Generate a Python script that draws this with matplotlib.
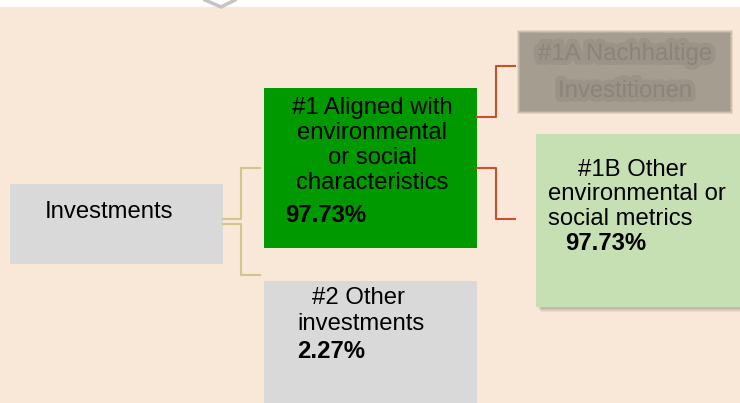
import matplotlib
matplotlib.use("Agg")
import matplotlib.pyplot as plt
from matplotlib.patches import Rectangle
import matplotlib.patheffects as pe

plt.rcParams['font.family'] = ['Liberation Sans', 'DejaVu Sans']

# ---- data ----
root_label = "Investments"
aligned_label = ["#1 Aligned with", "environmental", "or social", "characteristics"]
aligned_share = "97.73%"
other_label = ["#2 Other", "investments"]
other_share = "2.27%"
sustainable_label = ["#1A Nachhaltige", "Investitionen"]
other_es_label = ["#1B Other", "environmental or", "social metrics"]
other_es_share = "97.73%"

BG = "#F9E8D8"
GREY = "#D9D9D9"
GREEN = "#009900"
LGREEN = "#C6E0B4"
TAN = "#D2C48E"
RED = "#C9502E"
BLUR = "#A69D91"

fig = plt.figure(figsize=(7.4, 4.03), dpi=100)
fig.patch.set_facecolor("white")
ax = fig.add_axes([0, 0, 1, 1])
ax.set_xlim(0, 740)
ax.set_ylim(403, 0)
ax.axis("off")

# background
ax.add_patch(Rectangle((0, 7), 740, 400, color=BG, zorder=0))

def rect(x0, y0, x1, y1, c, z=1, **kw):
    ax.add_patch(Rectangle((x0, y0), x1 - x0, y1 - y0, facecolor=c, edgecolor="none", zorder=z, **kw))

# boxes
rect(10, 184, 223, 264, GREY)
rect(264, 88, 477, 248, GREEN)
rect(264, 281, 477, 405, GREY)

# shadow for light green box
for i, a in enumerate([0.05, 0.05, 0.05, 0.06]):
    rect(536 + 2 + i, 134 + 2 + i, 742, 307 + 2 + i, "black", z=1, alpha=a)
rect(536, 134, 742, 307, LGREEN, z=2)

# blurred box
for i, a in enumerate([0.25, 0.35, 0.5, 1.0]):
    d = 3 - i
    rect(520 - d, 33 - d, 730 + d, 111 + d, BLUR, z=1, alpha=a)

# connectors (tan)
lw = 1.5
ax.plot([223, 241, 241, 260], [219, 219, 168, 168], color=TAN, lw=lw, zorder=1)
ax.plot([223, 241, 241, 260], [224, 224, 275, 275], color=TAN, lw=lw, zorder=1)
# connectors (red)
ax.plot([477, 496, 496, 515], [117, 117, 66, 66], color=RED, lw=lw, zorder=1)
ax.plot([477, 496, 496, 515], [168, 168, 219, 219], color=RED, lw=lw, zorder=1)

fs = 17.2
# texts
ax.text(45, 212, root_label, fontsize=fs, ha="left", va="center", zorder=5)

for i, s in enumerate(aligned_label):
    ax.text(372, 108 + 25 * i, s, fontsize=fs, ha="center", va="center", zorder=5)
ax.text(285, 216, aligned_share, fontsize=fs, fontweight="bold", ha="left", va="center", zorder=5)

ax.text(312, 298, other_label[0], fontsize=fs, ha="left", va="center", zorder=5)
ax.text(297, 324, other_label[1], fontsize=fs, ha="left", va="center", zorder=5)
ax.text(297, 352, other_share, fontsize=fs, fontweight="bold", ha="left", va="center", zorder=5)

ax.text(578, 170, other_es_label[0], fontsize=fs, ha="left", va="center", zorder=5)
ax.text(548, 194, other_es_label[1], fontsize=fs, ha="left", va="center", zorder=5)
ax.text(548, 219, other_es_label[2], fontsize=fs, ha="left", va="center", zorder=5)
ax.text(565, 244, other_es_share, fontsize=fs, fontweight="bold", ha="left", va="center", zorder=5)

# blurred text
blur_fx = [pe.withStroke(linewidth=7, foreground="#948B80", alpha=0.5)]
ax.text(625, 54, sustainable_label[0], fontsize=fs, ha="center", va="center",
        color="#857C71", alpha=0.45, zorder=5, path_effects=blur_fx)
ax.text(625, 91, sustainable_label[1], fontsize=fs, ha="center", va="center",
        color="#857C71", alpha=0.45, zorder=5, path_effects=blur_fx)

# watermark fragment
ax.plot([205, 221, 235], [0, 7, 0], color="#C4C4C4", lw=2.5, zorder=6, clip_on=True)

fig.savefig("out.png", dpi=100, facecolor=fig.get_facecolor())
